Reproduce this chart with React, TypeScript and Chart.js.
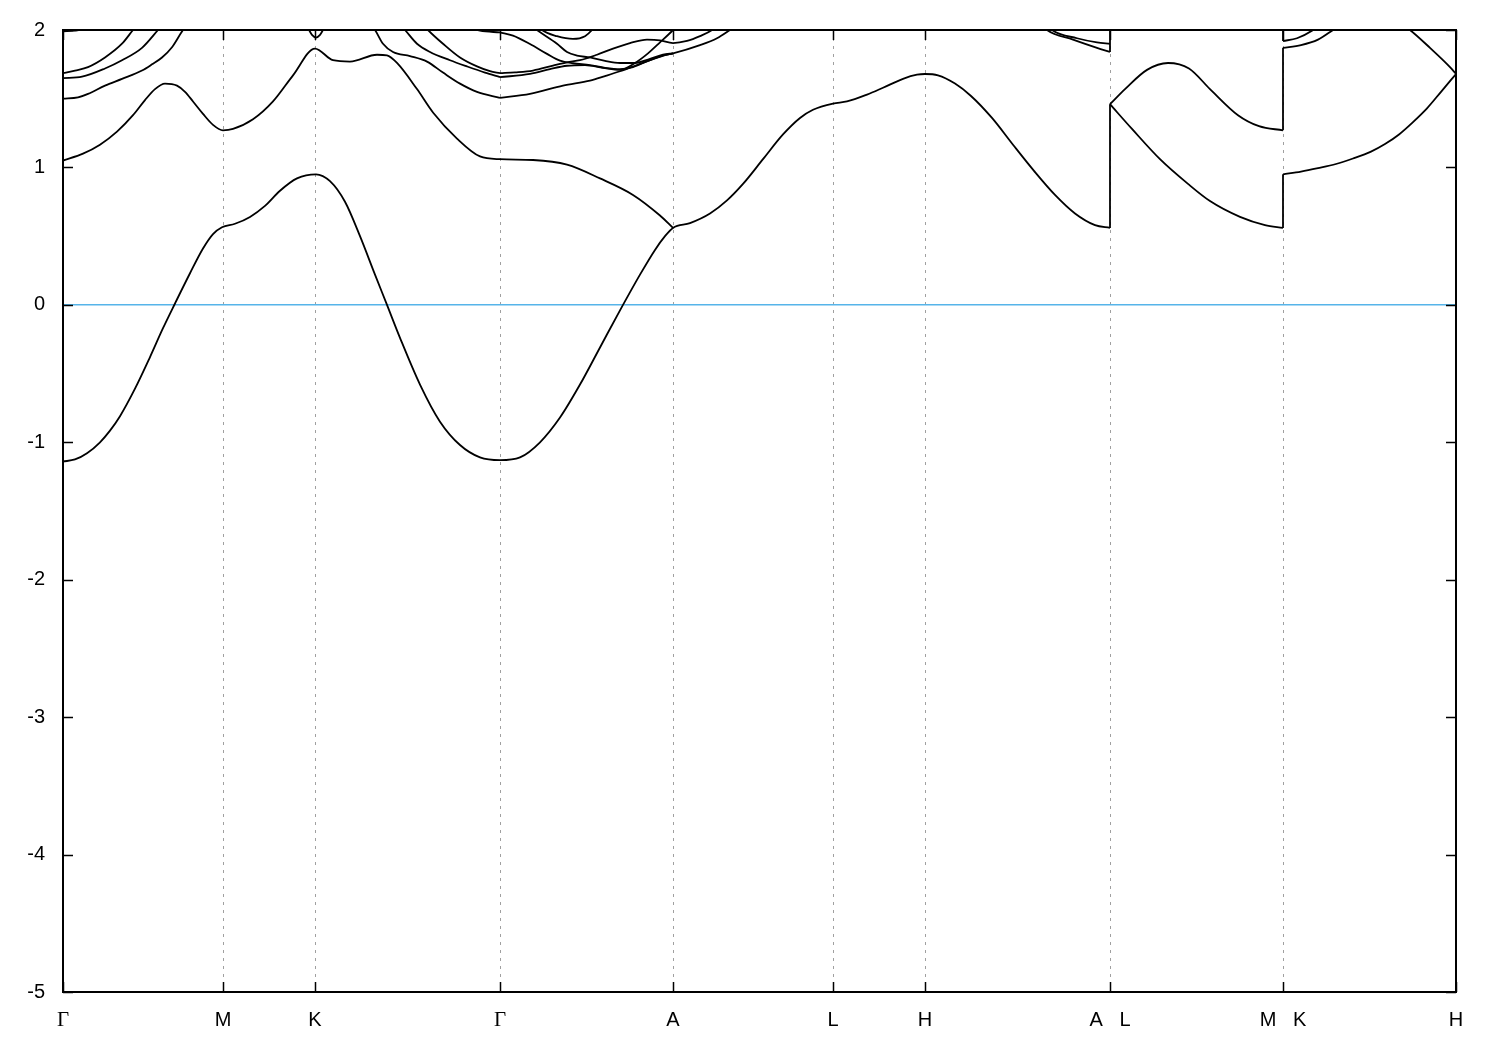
import React, { useEffect, useRef } from 'react';
import { Chart, registerables } from 'chart.js';

Chart.register(...registerables);

// High-symmetry points along the k-path (path distance units) and their labels
const kTicks = [0, 160, 252, 437, 610, 770, 862, 1047, 1220, 1393];
const kLabels = ['Γ', 'M', 'K', 'Γ', 'A', 'L', 'H', 'A   L', 'M   K', 'H'];
const energyMin = -5;
const energyMax = 2;
const fermiLevel = 0;

type P = [number, number];

// Band 1 (lowest): Γ-M-K-Γ-A-L-H-A
const band1Main: P[] = [
  [0, -1.14], [12, -1.125], [24, -1.08], [37, -1.0], [47, -0.915], [57, -0.81], [72, -0.61], [87, -0.38],
  [100, -0.17], [112, 0.01], [127, 0.23], [140, 0.41], [150, 0.515], [159, 0.565], [172, 0.59], [187, 0.64],
  [202, 0.72], [217, 0.83], [234, 0.92], [253, 0.95], [267, 0.9], [282, 0.75], [297, 0.5], [312, 0.22],
  [324, 0], [337, -0.24], [357, -0.58], [377, -0.85], [397, -1.02], [417, -1.11], [437, -1.13],
  [457, -1.11], [477, -1.0], [497, -0.82], [517, -0.58], [537, -0.31], [557, -0.04], [577, 0.22], [592, 0.4],
  [602, 0.5], [610, 0.56], [627, 0.595], [647, 0.665], [664, 0.76], [680, 0.88], [700, 1.06], [720, 1.24],
  [737, 1.36], [750, 1.42], [770, 1.465], [784, 1.48], [804, 1.53], [820, 1.58], [840, 1.645], [854, 1.675],
  [862, 1.68], [875, 1.67], [892, 1.61], [908, 1.52], [929, 1.36], [950, 1.165], [971, 0.975], [992, 0.8],
  [1012, 0.665], [1032, 0.58], [1047, 0.56],
];
// L-M lower branch
const band1LM: P[] = [
  [1047, 1.46], [1069, 1.28], [1097, 1.06], [1125, 0.88], [1147, 0.755], [1177, 0.64], [1202, 0.58], [1220, 0.56],
];
// K-H lower branch
const band1KH: P[] = [
  [1220, 0.95], [1238, 0.97], [1255, 0.995], [1273, 1.025], [1290, 1.065], [1308, 1.115], [1322, 1.17],
  [1336, 1.24], [1350, 1.33], [1364, 1.43], [1378, 1.55], [1393, 1.68],
];
// Band 2: Γ-M-K-Γ-A
const band2Main: P[] = [
  [0, 1.05], [20, 1.1], [37, 1.165], [54, 1.26], [70, 1.38], [82, 1.49], [92, 1.57], [102, 1.61], [114, 1.595],
  [122, 1.55], [130, 1.48], [140, 1.39], [150, 1.31], [160, 1.27], [170, 1.28], [190, 1.35], [210, 1.48],
  [230, 1.67], [252, 1.865], [270, 1.78], [287, 1.77], [314, 1.82], [324, 1.815], [334, 1.76], [354, 1.57],
  [370, 1.4], [394, 1.21], [417, 1.08], [437, 1.06], [470, 1.054], [504, 1.02], [537, 0.92], [570, 0.8],
  [597, 0.65], [610, 0.56],
];
// L-M upper branch
const band2LM: P[] = [
  [1047, 1.46], [1062, 1.57], [1084, 1.71], [1105, 1.76], [1126, 1.72], [1147, 1.57], [1175, 1.38], [1196, 1.3], [1220, 1.27],
];
// K-H upper branches
const band2KH: P[] = [[1220, 1.87], [1238, 1.89], [1255, 1.93], [1270, 2.0], [1282, 2.06]];
const band3KH: P[] = [[1220, 1.92], [1234, 1.94], [1249, 1.995], [1257, 2.04]];
const band3H: P[] = [[1337, 2.05], [1347, 2.0], [1367, 1.87], [1387, 1.73], [1393, 1.68]];

// Upper bands Γ-M
const upperGM_a: P[] = [[0, 1.5], [15, 1.51], [25, 1.535], [42, 1.595], [59, 1.644], [79, 1.705], [89, 1.75], [99, 1.8], [109, 1.875], [120, 2.0], [127, 2.06]];
const upperGM_b: P[] = [[0, 1.65], [19, 1.66], [42, 1.72], [59, 1.78], [79, 1.87], [95, 2.0], [102, 2.06]];
const upperGM_c: P[] = [[0, 1.686], [12, 1.705], [25, 1.73], [42, 1.8], [59, 1.9], [70, 2.0], [77, 2.06]];
const upperGM_d: P[] = [[0, 1.99], [12, 1.995], [22, 2.01], [32, 2.05]];
// small touching band at K
const upperK: P[] = [[242, 2.05], [246, 2.0], [249, 1.965], [253, 1.945], [257, 1.965], [260, 2.0], [264, 2.05]];
// Upper bands K-Γ
const upperKG_a: P[] = [[307, 2.04], [312, 2.0], [320, 1.9], [330, 1.84], [347, 1.81], [364, 1.77], [380, 1.69], [397, 1.61], [414, 1.55], [437, 1.506]];
const upperKG_c: P[] = [[337, 2.04], [342, 2.0], [354, 1.9], [367, 1.84], [387, 1.78], [404, 1.735], [422, 1.69], [437, 1.657]];
const upperKG_b: P[] = [[360, 2.04], [365, 2.0], [380, 1.9], [397, 1.8], [414, 1.735], [427, 1.7], [437, 1.686]];
const upperKG_d: P[] = [[407, 2.02], [417, 1.995], [437, 1.983]];
// Upper bands Γ-A (and just past A)
const upperGA_a: P[] = [[437, 1.506], [467, 1.535], [500, 1.596], [527, 1.632], [542, 1.665], [557, 1.7], [572, 1.74], [587, 1.78], [600, 1.815], [610, 1.83], [637, 1.89], [654, 1.94], [667, 2.0], [675, 2.04]];
const upperGA_b: P[] = [[437, 1.657], [467, 1.68], [487, 1.715], [504, 1.74], [522, 1.745], [540, 1.725], [557, 1.71], [572, 1.76], [585, 1.83], [597, 1.91], [610, 2.0], [615, 2.04]];
const upperGA_c: P[] = [[437, 1.686], [452, 1.692], [470, 1.705], [490, 1.741], [504, 1.765], [517, 1.78], [534, 1.82], [550, 1.865], [567, 1.905], [584, 1.93], [597, 1.925], [610, 1.905], [624, 1.92], [637, 1.955], [649, 2.0], [655, 2.04]];
const upperGA_d: P[] = [[437, 1.983], [450, 1.959], [467, 1.898], [484, 1.826], [497, 1.777], [510, 1.758], [527, 1.745], [542, 1.725], [557, 1.715], [570, 1.73], [585, 1.775], [599, 1.81], [610, 1.83]];
const upperGA_v1: P[] = [[467, 2.04], [474, 2.0], [494, 1.9], [504, 1.84], [514, 1.814], [527, 1.8], [542, 1.775], [557, 1.76], [572, 1.76], [587, 1.79], [600, 1.82], [610, 1.83]];
const upperGA_v2: P[] = [[474, 2.04], [479, 2.0], [494, 1.955], [510, 1.935], [522, 1.955], [529, 2.0], [533, 2.04]];
// Upper bands H-A
const upperHA_1: P[] = [[979, 2.04], [984, 2.0], [1010, 1.93], [1034, 1.87], [1047, 1.84]];
const upperHA_2: P[] = [[984, 2.04], [989, 2.0], [1014, 1.94], [1034, 1.91], [1047, 1.9]];

// Discontinuities at A|L and M|K: [k, E from, E to]
const jumps: [number, number, number][] = [
  [1047, 0.56, 1.46], [1047, 1.84, 2.1], [1220, 0.56, 0.95], [1220, 1.27, 1.87], [1220, 1.92, 2.1],
];

const bandSegments: P[][] = [
  band1Main, band1LM, band1KH, band2Main, band2LM, band2KH, band3KH, band3H,
  upperGM_a, upperGM_b, upperGM_c, upperGM_d, upperK,
  upperKG_a, upperKG_b, upperKG_c, upperKG_d,
  upperGA_a, upperGA_b, upperGA_c, upperGA_d, upperGA_v1, upperGA_v2,
  upperHA_1, upperHA_2,
];

const FONT = '"Liberation Sans", Arial, Helvetica, sans-serif';

const framePlugin = {
  id: 'gnuframe',
  beforeDatasetsDraw(chart: any) {
    const { ctx, chartArea: a, scales } = chart;
    const xs = scales.x;
    ctx.save();
    ctx.strokeStyle = '#a0a0a0';
    ctx.lineWidth = 1;
    ctx.setLineDash([3, 5]);
    kTicks.forEach((k, i) => {
      if (i === 0 || i === kTicks.length - 1) return;
      const px = Math.round(xs.getPixelForValue(k)) + 0.5;
      ctx.beginPath();
      ctx.moveTo(px, a.top);
      ctx.lineTo(px, a.bottom);
      ctx.stroke();
    });
    ctx.restore();
  },
  afterDatasetsDraw(chart: any) {
    const { ctx, chartArea: a, scales } = chart;
    const xs = scales.x;
    const ys = scales.y;
    const tl = 10;
    ctx.save();
    ctx.strokeStyle = '#000';
    ctx.lineWidth = 1.5;
    ctx.setLineDash([]);
    kTicks.forEach((k) => {
      const px = Math.round(xs.getPixelForValue(k)) + 0.5;
      ctx.beginPath();
      ctx.moveTo(px, a.bottom);
      ctx.lineTo(px, a.bottom - tl);
      ctx.moveTo(px, a.top);
      ctx.lineTo(px, a.top + tl);
      ctx.stroke();
    });
    for (let e = energyMin; e <= energyMax; e++) {
      const py = Math.round(ys.getPixelForValue(e)) + 0.5;
      ctx.beginPath();
      ctx.moveTo(a.left, py);
      ctx.lineTo(a.left + tl, py);
      ctx.moveTo(a.right, py);
      ctx.lineTo(a.right - tl, py);
      ctx.stroke();
    }
    ctx.lineWidth = 2;
    ctx.strokeRect(a.left, a.top, a.right - a.left, a.bottom - a.top);
    ctx.restore();
  },
};

export default function App() {
  const ref = useRef<HTMLCanvasElement | null>(null);

  useEffect(() => {
    if (!ref.current) return;
    const lineStyle = {
      borderColor: '#000',
      borderWidth: 1.8,
      pointRadius: 0,
      pointHoverRadius: 0,
      fill: false,
      showLine: true,
      cubicInterpolationMode: 'monotone' as const,
    };
    const datasets: any[] = [];
    bandSegments.forEach((seg) => {
      datasets.push({ ...lineStyle, data: seg.map(([x, y]) => ({ x, y })) });
    });
    jumps.forEach(([k, e0, e1]) => {
      datasets.push({ ...lineStyle, cubicInterpolationMode: 'default', tension: 0, data: [{ x: k, y: e0 }, { x: k, y: e1 }] });
    });
    datasets.push({
      borderColor: '#56b4e9',
      borderWidth: 1.5,
      pointRadius: 0,
      fill: false,
      tension: 0,
      data: [{ x: kTicks[0], y: fermiLevel }, { x: kTicks[kTicks.length - 1], y: fermiLevel }],
    });

    const chart = new Chart(ref.current, {
      type: 'line',
      data: { datasets },
      plugins: [framePlugin],
      options: {
        animation: false,
        responsive: false,
        devicePixelRatio: 1,
        events: [],
        layout: { padding: { top: 24, right: 44, left: 0, bottom: 0 } },
        plugins: { legend: { display: false }, tooltip: { enabled: false } },
        scales: {
          x: {
            type: 'linear',
            min: kTicks[0],
            max: kTicks[kTicks.length - 1],
            afterBuildTicks: (scale: any) => {
              scale.ticks = kTicks.map((v) => ({ value: v }));
            },
            afterFit: (scale: any) => {
              scale.height = 58;
            },
            grid: { display: false, drawTicks: false },
            border: { display: false },
            ticks: {
              autoSkip: false,
              maxRotation: 0,
              padding: 16,
              color: '#000',
              callback: (_v: any, i: number) => kLabels[i],
              font: (ctx: any) =>
                kLabels[ctx.index] === 'Γ'
                  ? { family: '"Liberation Serif", "DejaVu Serif", serif', size: 21 }
                  : { family: FONT, size: 20 },
            },
          },
          y: {
            type: 'linear',
            min: energyMin,
            max: energyMax,
            afterFit: (scale: any) => {
              scale.width = 63;
            },
            grid: { display: false, drawTicks: false },
            border: { display: false },
            ticks: {
              stepSize: 1,
              padding: 18,
              color: '#000',
              font: { family: FONT, size: 20 },
            },
          },
        },
      } as any,
    });
    return () => chart.destroy();
  }, []);

  return (
    <div style={{ position: 'absolute', left: 0, top: 0, width: 1500, height: 1050, background: '#fff' }}>
      <canvas ref={ref} width={1500} height={1050} style={{ display: 'block' }} />
    </div>
  );
}
